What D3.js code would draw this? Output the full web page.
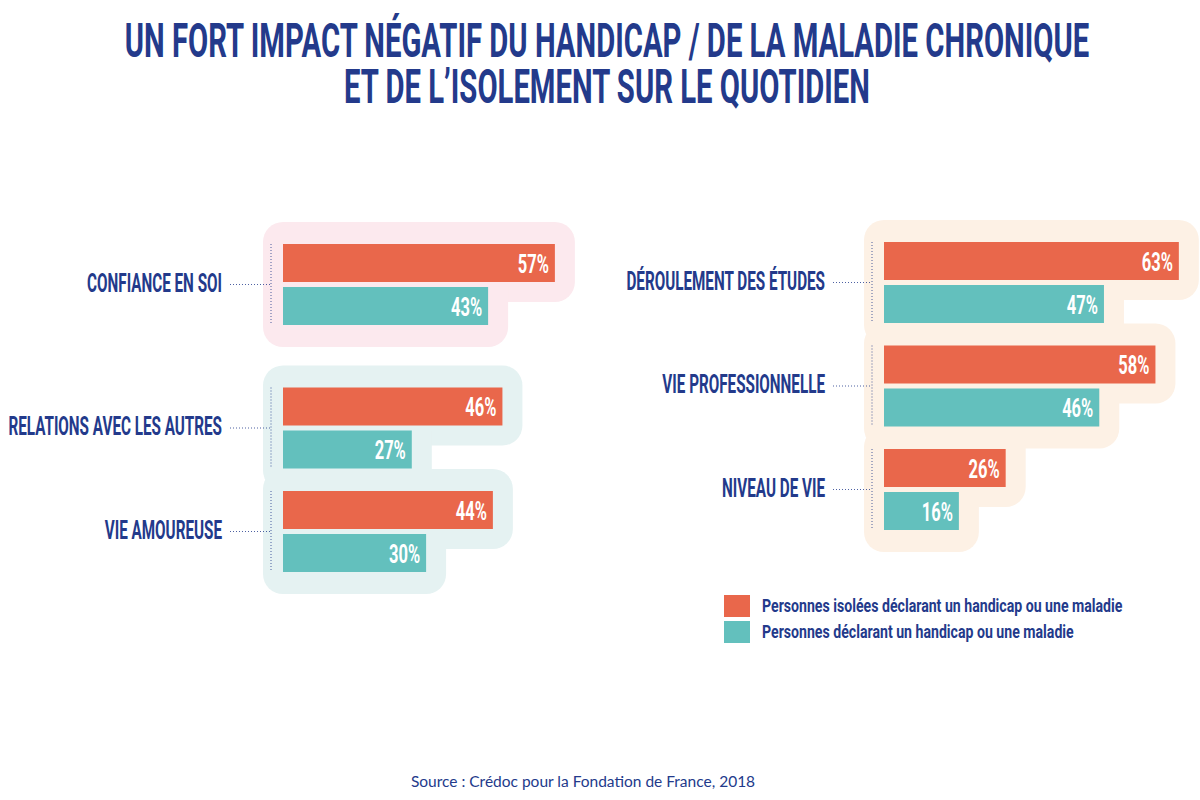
<!DOCTYPE html>
<html lang="fr">
<head>
<meta charset="UTF-8">
<title>Impact négatif du handicap et de l'isolement</title>
<script src="https://d3js.org/d3.v7.min.js"></script>
<style>
  html, body { margin: 0; padding: 0; background: #fff; }
  svg { display: block; }
  .cond { font-family: Roboto, "Liberation Sans", sans-serif; font-weight: 700; }
</style>
</head>
<body>
<svg width="1200" height="800"></svg>
<script>
// left block
const leftCategories = ["CONFIANCE EN SOI", "RELATIONS AVEC LES AUTRES", "VIE AMOUREUSE"];
const leftIsolated = [57, 46, 44];
const leftAll = [43, 27, 30];
// right block
const rightCategories = ["DÉROULEMENT DES ÉTUDES", "VIE PROFESSIONNELLE", "NIVEAU DE VIE"];
const rightIsolated = [63, 58, 26];
const rightAll = [47, 46, 16];

const seriesNames = [
  "Personnes isolées déclarant un handicap ou une maladie",
  "Personnes déclarant un handicap ou une maladie"
];
const titleLines = [
  "UN FORT IMPACT NÉGATIF DU HANDICAP / DE LA MALADIE CHRONIQUE",
  "ET DE L’ISOLEMENT SUR LE QUOTIDIEN"
];
const sourceText = "Source : Crédoc pour la Fondation de France, 2018";

const navy = "#233a8b";
const barColor = ["#e9674b", "#63c0bd"];
const barH = 38, barGap = 5, pad = 20, groupStep = 103.5, boxGap = 40;

const svg = d3.select("svg");
const bgLayer = svg.append("g");
const lineLayer = svg.append("g");
const barLayer = svg.append("g");
const textLayer = svg.append("g");

// condensed text: squeeze a regular bold face horizontally
function condText(parent, x, y, str, size, sx, anchor, fill, weight) {
  const g = parent.append("g").attr("transform", `translate(${x},${y}) scale(${sx},1)`);
  return g.append("text")
    .attr("class", "cond")
    .attr("text-anchor", anchor)
    .attr("dominant-baseline", "central")
    .attr("font-size", size)
    .attr("font-weight", weight || 700)
    .attr("fill", fill)
    .text(str);
}

function drawPanel(cats, isolated, all, opt) {
  const x = d3.scaleLinear().domain([0, 100]).range([opt.x0, opt.x0 + opt.pxPerPct * 100]);

  // group tops; an extra gap where the tinted box changes
  let tops = [], y = opt.top;
  cats.forEach((c, i) => {
    if (i > 0) y += groupStep + (opt.tints[i] !== opt.tints[i - 1] ? boxGap : 0);
    tops.push(y);
  });

  cats.forEach((c, i) => {
    const vals = [isolated[i], all[i]];
    vals.forEach((v, k) => {
      const by = tops[i] + k * (barH + barGap);
      bgLayer.append("rect")
        .attr("x", x(0) - pad).attr("y", by - pad - (k === 0 ? 2 : 0))
        .attr("width", x(v) - x(0) + 2 * pad)
        .attr("height", barH + 2 * pad + 2)
        .attr("rx", 20)
        .attr("fill", opt.tints[i]);

      barLayer.append("rect")
        .attr("x", x(0)).attr("y", by)
        .attr("width", x(v) - x(0)).attr("height", barH)
        .attr("fill", barColor[k]);

      condText(textLayer, x(v) - 6, by + barH / 2 + 1, v + "%", 25, 0.66, "end", "#fff");
    });

    const mid = tops[i] + (2 * barH + barGap) / 2;
    const vx = x(0) - 12;
    lineLayer.append("line")
      .attr("x1", vx).attr("x2", vx)
      .attr("y1", tops[i]).attr("y2", tops[i] + 2 * barH + barGap)
      .attr("stroke", navy).attr("stroke-width", 1).attr("stroke-dasharray", "1,2")
      .attr("opacity", 0.8);
    lineLayer.append("line")
      .attr("x1", opt.labelRight + 8).attr("x2", vx)
      .attr("y1", mid).attr("y2", mid)
      .attr("stroke", navy).attr("stroke-width", 1).attr("stroke-dasharray", "1,2")
      .attr("opacity", 0.8);

    condText(textLayer, opt.labelRight, mid - 1, c, 25, 0.61, "end", navy);
  });
}

drawPanel(leftCategories, leftIsolated, leftAll, {
  x0: 283, pxPerPct: 4.77, top: 244, labelRight: 222,
  tints: ["#fce9ee", "#e5f2f2", "#e5f2f2"]
});
drawPanel(rightCategories, rightIsolated, rightAll, {
  x0: 884, pxPerPct: 4.68, top: 242, labelRight: 825,
  tints: ["#fdf1e5", "#fdf1e5", "#fdf1e5"]
});

// title
titleLines.forEach((t, i) => {
  condText(svg, 607, 41 + i * 46, t, 48, 0.61, "middle", navy);
});

// legend
seriesNames.forEach((s, i) => {
  svg.append("rect")
    .attr("x", 724).attr("y", 595 + i * 26)
    .attr("width", 26).attr("height", 22)
    .attr("fill", barColor[i]);
  condText(svg, 762, 606 + i * 26, s, 18, 0.785, "start", navy, 500);
});

// source
svg.append("text")
  .attr("x", 583).attr("y", 787)
  .attr("text-anchor", "middle")
  .attr("font-family", "Lato, sans-serif")
  .attr("font-size", 15.5)
  .attr("fill", navy)
  .text(sourceText);
</script>
</body>
</html>
